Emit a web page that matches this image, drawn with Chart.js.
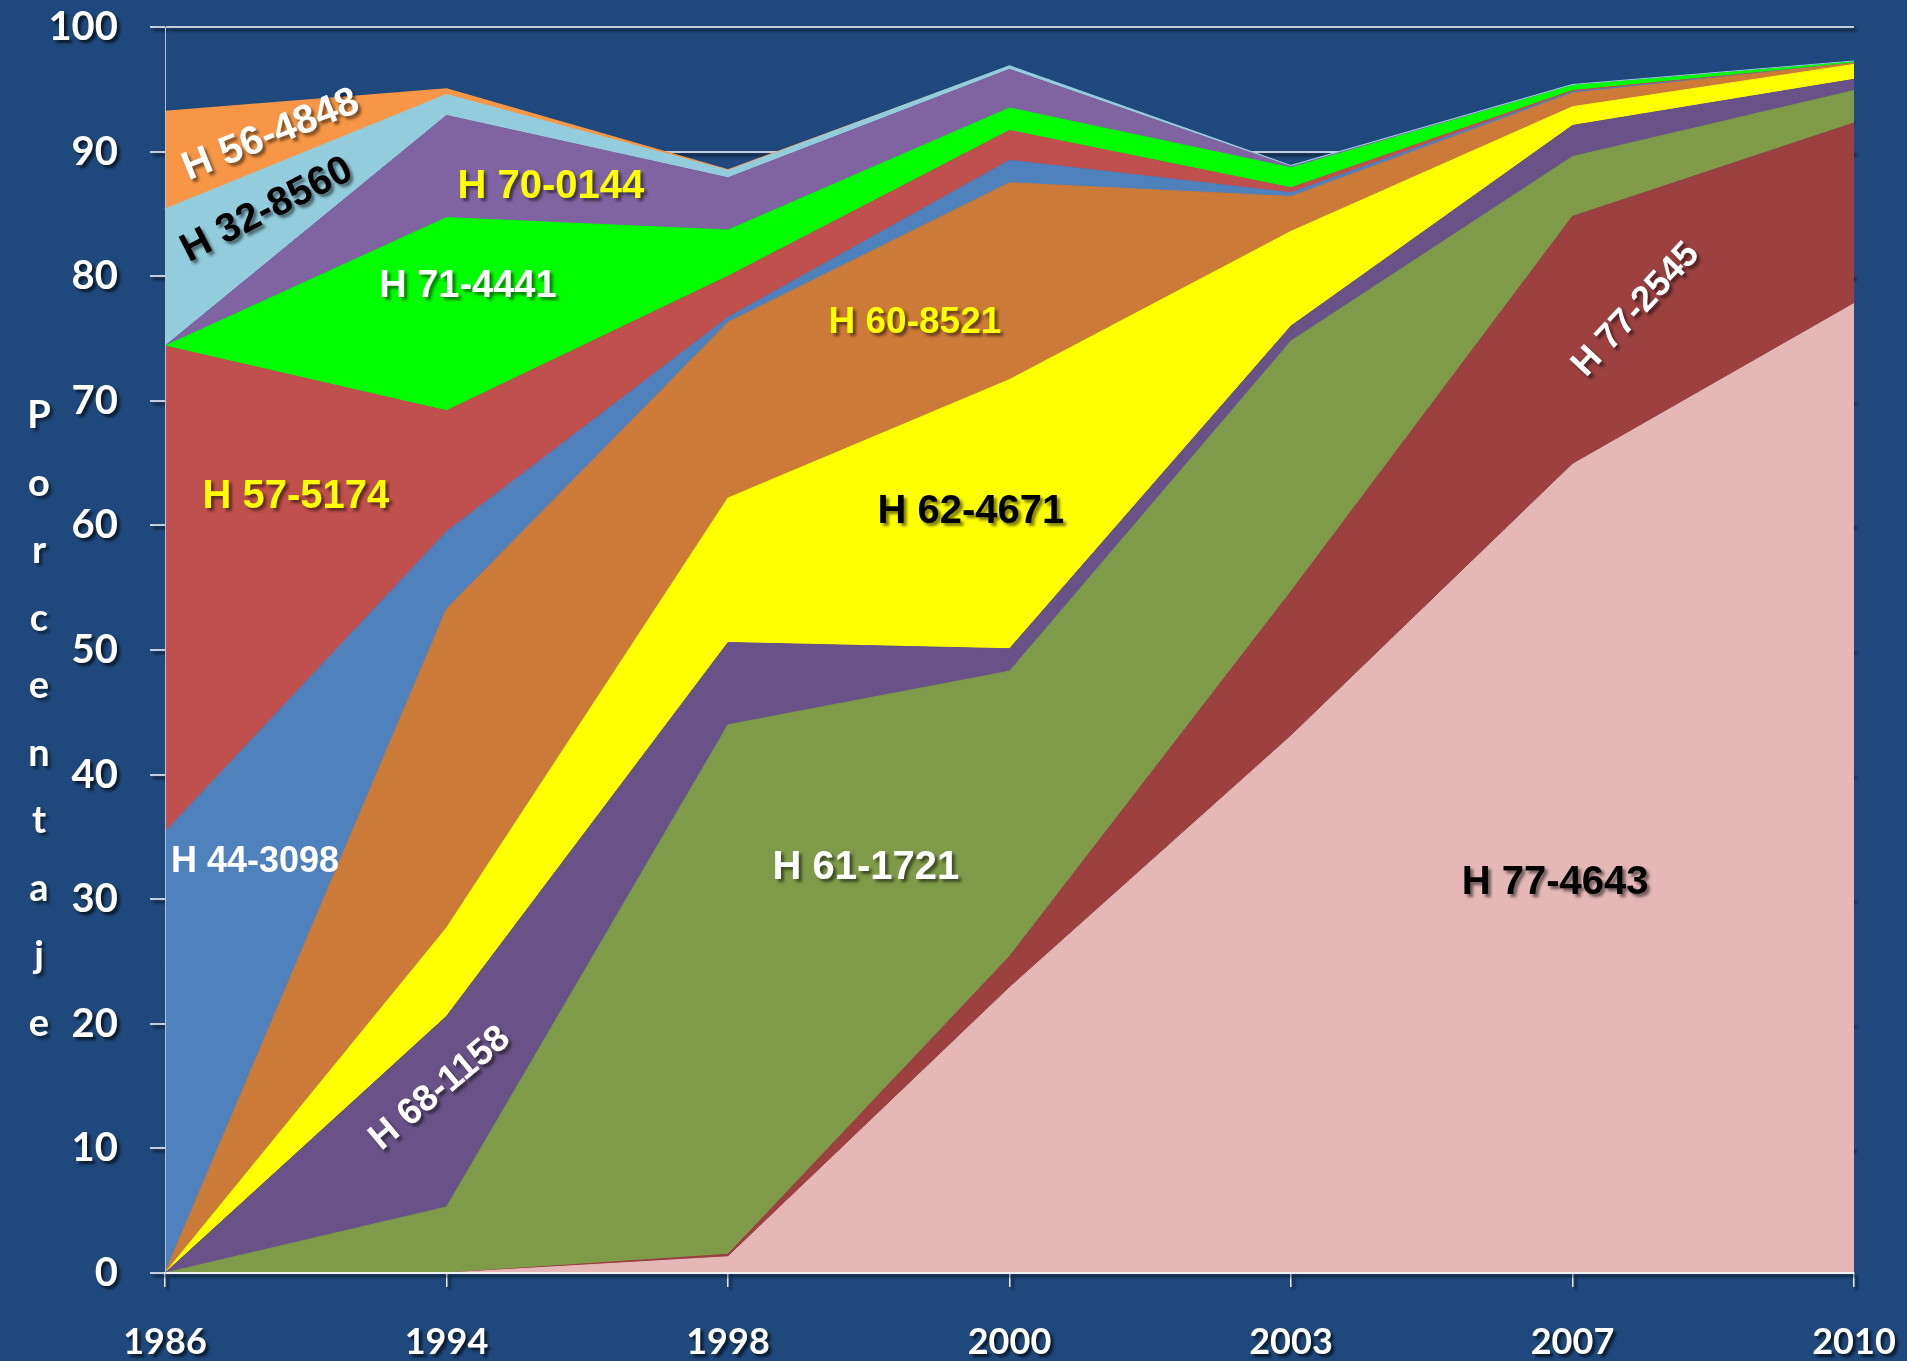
<!DOCTYPE html>
<html>
<head>
<meta charset="utf-8">
<script src="https://cdn.jsdelivr.net/npm/chart.js@4.4.1/dist/chart.umd.min.js"></script>
<style>
  html, body { margin: 0; padding: 0; background: #1f497c; }
  #wrap { width: 1907px; height: 1361px; position: relative; }
</style>
</head>
<body>
<div id="wrap"><canvas id="chart" width="1907" height="1361"></canvas></div>
<script>
// years on the x axis
var years = ['1986', '1994', '1998', '2000', '2003', '2007', '2010'];

// share of each variety (%), stacked from the bottom up
var h77_4643 = [0, 0, 1.3, 22.9, 43.1, 64.9, 77.8];
var h77_2545 = [0, 0, 0.2, 2.5, 11.6, 19.9, 14.5];
var h61_1721 = [0, 5.3, 42.5, 22.9, 20.1, 4.8, 2.6];
var h68_1158 = [0, 15.3, 6.6, 1.8, 1.2, 2.5, 0.9];
var h62_4671 = [0, 7.1, 11.6, 21.6, 7.6, 1.5, 1.2];
var h60_8521 = [0, 25.6, 14.1, 15.8, 2.8, 1.1, 0.1];
var h44_3098 = [35.4, 6.2, 0.4, 1.8, 0.3, 0.1, 0];
var h57_5174 = [39.0, 9.7, 3.3, 2.4, 0.4, 0.1, 0];
var h71_4441 = [0, 15.5, 3.7, 1.8, 1.6, 0.4, 0.1];
var h70_0144 = [0, 8.2, 4.2, 3.1, 0.1, 0, 0];
var h32_8560 = [10.9, 1.6, 0.5, 0.2, 0, 0, 0];
var h56_4848 = [7.9, 0.5, 0.1, 0, 0, 0, 0];

var yTicks = [0, 10, 20, 30, 40, 50, 60, 70, 80, 90, 100];
var yTitle = 'Porcentaje';

// text written inside the areas (x = category index, y = value)
var notes = [
  { text: 'H 56-4848', x: 0.376, y: 91.3, color: '#ffffff', angle: -22 },
  { text: 'H 32-8560', x: 0.362, y: 85.3, color: '#000000', angle: -27 },
  { text: 'H 70-0144', x: 1.371, y: 87.2, color: '#ffff00', angle: 0 },
  { text: 'H 71-4441', x: 1.076, y: 79.2, color: '#ffffff', angle: 0, size: 38 },
  { text: 'H 60-8521', x: 2.664, y: 76.3, color: '#ffff00', angle: 0, size: 37 },
  { text: 'H 57-5174', x: 0.465, y: 62.3, color: '#ffff00', angle: 0 },
  { text: 'H 62-4671', x: 2.863, y: 61.1, color: '#000000', angle: 0 },
  { text: 'H 44-3098', x: 0.320, y: 33.0, color: '#ffffff', angle: 0, size: 36, flat: true },
  { text: 'H 61-1721', x: 2.490, y: 32.5, color: '#ffffff', angle: 0 },
  { text: 'H 68-1158', x: 0.977, y: 14.8, color: '#ffffff', angle: -40, size: 37 },
  { text: 'H 77-2545', x: 5.226, y: 77.3, color: '#ffffff', angle: -47, size: 36 },
  { text: 'H 77-4643', x: 4.938, y: 31.3, color: '#000000', angle: 0 }
];

function area(label, data, color, width, fill) {
  return {
    label: label,
    data: data,
    backgroundColor: color,
    borderColor: color,
    borderWidth: width,
    fill: fill || '-1',
    pointRadius: 0,
    tension: 0
  };
}

var datasets = [
  area('H 77-4643', h77_4643, '#e5b8b7', 1, 'origin'),
  area('H 77-2545', h77_2545, '#9c4040', 1),
  area('H 61-1721', h61_1721, '#7f9a48', 1),
  area('H 68-1158', h68_1158, '#695287', 1),
  area('H 62-4671', h62_4671, '#ffff00', 1),
  area('H 60-8521', h60_8521, '#cc7a38', 1),
  area('H 44-3098', h44_3098, '#4f81bd', 1),
  area('H 57-5174', h57_5174, '#c0504d', 1),
  area('H 71-4441', h71_4441, '#00ff00', 1),
  area('H 70-0144', h70_0144, '#8064a2', 1),
  area('H 32-8560', h32_8560, '#93cddd', 3),
  area('H 56-4848', h56_4848, '#f79646', 2)
];

var shadowPlugin = {
  id: 'shadows',
  beforeDraw: function(chart) {
    var ctx = chart.ctx;
    ctx.save();
    ctx.shadowColor = 'rgba(0,0,0,0.65)';
    ctx.shadowOffsetX = 3;
    ctx.shadowOffsetY = 3;
    ctx.shadowBlur = 3;
  },
  beforeDatasetsDraw: function(chart) {
    chart.ctx.restore();
  },
  afterDraw: function(chart) {
    var ctx = chart.ctx;
    var xs = chart.scales.x, ys = chart.scales.y;
    ctx.save();
    ctx.textAlign = 'center';
    ctx.textBaseline = 'middle';
    notes.forEach(function(n) {
      var px = xs.getPixelForValue(n.x);
      var py = ys.getPixelForValue(n.y);
      ctx.save();
      if (!n.flat) {
        ctx.shadowColor = 'rgba(0,0,0,0.5)';
        ctx.shadowOffsetX = 3;
        ctx.shadowOffsetY = 3;
        ctx.shadowBlur = 3;
      }
      ctx.translate(px, py);
      ctx.rotate(n.angle * Math.PI / 180);
      ctx.font = 'bold ' + (n.size || 40) + 'px "Liberation Sans", Arial, sans-serif';
      ctx.fillStyle = n.color;
      ctx.fillText(n.text, 0, 0);
      ctx.restore();
    });

    // the axis title, one letter under the other
    ctx.shadowColor = 'rgba(0,0,0,0.5)';
    ctx.shadowOffsetX = 3;
    ctx.shadowOffsetY = 3;
    ctx.shadowBlur = 3;
    ctx.font = 'bold 38px Lato, sans-serif';
    ctx.fillStyle = '#ffffff';
    ctx.textBaseline = 'alphabetic';
    for (var i = 0; i < yTitle.length; i++) {
      ctx.fillText(yTitle[i], 39, 428 + i * 67.5);
    }
    ctx.restore();
  }
};

var ctx = document.getElementById('chart').getContext('2d');
var chart = new Chart(ctx, {
  type: 'line',
  data: { labels: years, datasets: datasets },
  options: {
    responsive: false,
    animation: false,
    devicePixelRatio: 1,
    layout: { padding: { top: 27, right: 53, left: 0, bottom: 0 } },
    plugins: {
      legend: { display: false },
      tooltip: { enabled: false }
    },
    scales: {
      x: {
        offset: false,
        afterFit: function(scale) {
          scale.height = 88;
          scale.paddingLeft = 0;
          scale.paddingRight = 0;
        },
        grid: { drawOnChartArea: false, drawTicks: true, tickLength: 14, color: '#e6ebf2', lineWidth: 1.5 },
        border: { display: true, color: '#eef2f7', width: 2, z: 1 },
        ticks: {
          color: '#ffffff',
          font: { family: 'Lato', weight: 'bold', size: 36 },
          padding: 34,
          maxRotation: 0
        }
      },
      y: {
        stacked: true,
        min: 0,
        max: 100,
        afterFit: function(scale) {
          scale.width = 165;
          scale.paddingTop = 0;
          scale.paddingBottom = 0;
        },
        afterBuildTicks: function(scale) {
          scale.ticks = yTicks.map(function(v) { return { value: v }; });
        },
        grid: { color: '#c3cddb', lineWidth: 2, tickLength: 15, drawTicks: true },
        border: { display: true, color: '#b5c2d4', width: 1, z: 1 },
        ticks: {
          color: '#ffffff',
          font: { family: 'Lato', weight: 'bold', size: 40 },
          padding: 32
        }
      }
    }
  },
  plugins: [shadowPlugin]
});
</script>
</body>
</html>
